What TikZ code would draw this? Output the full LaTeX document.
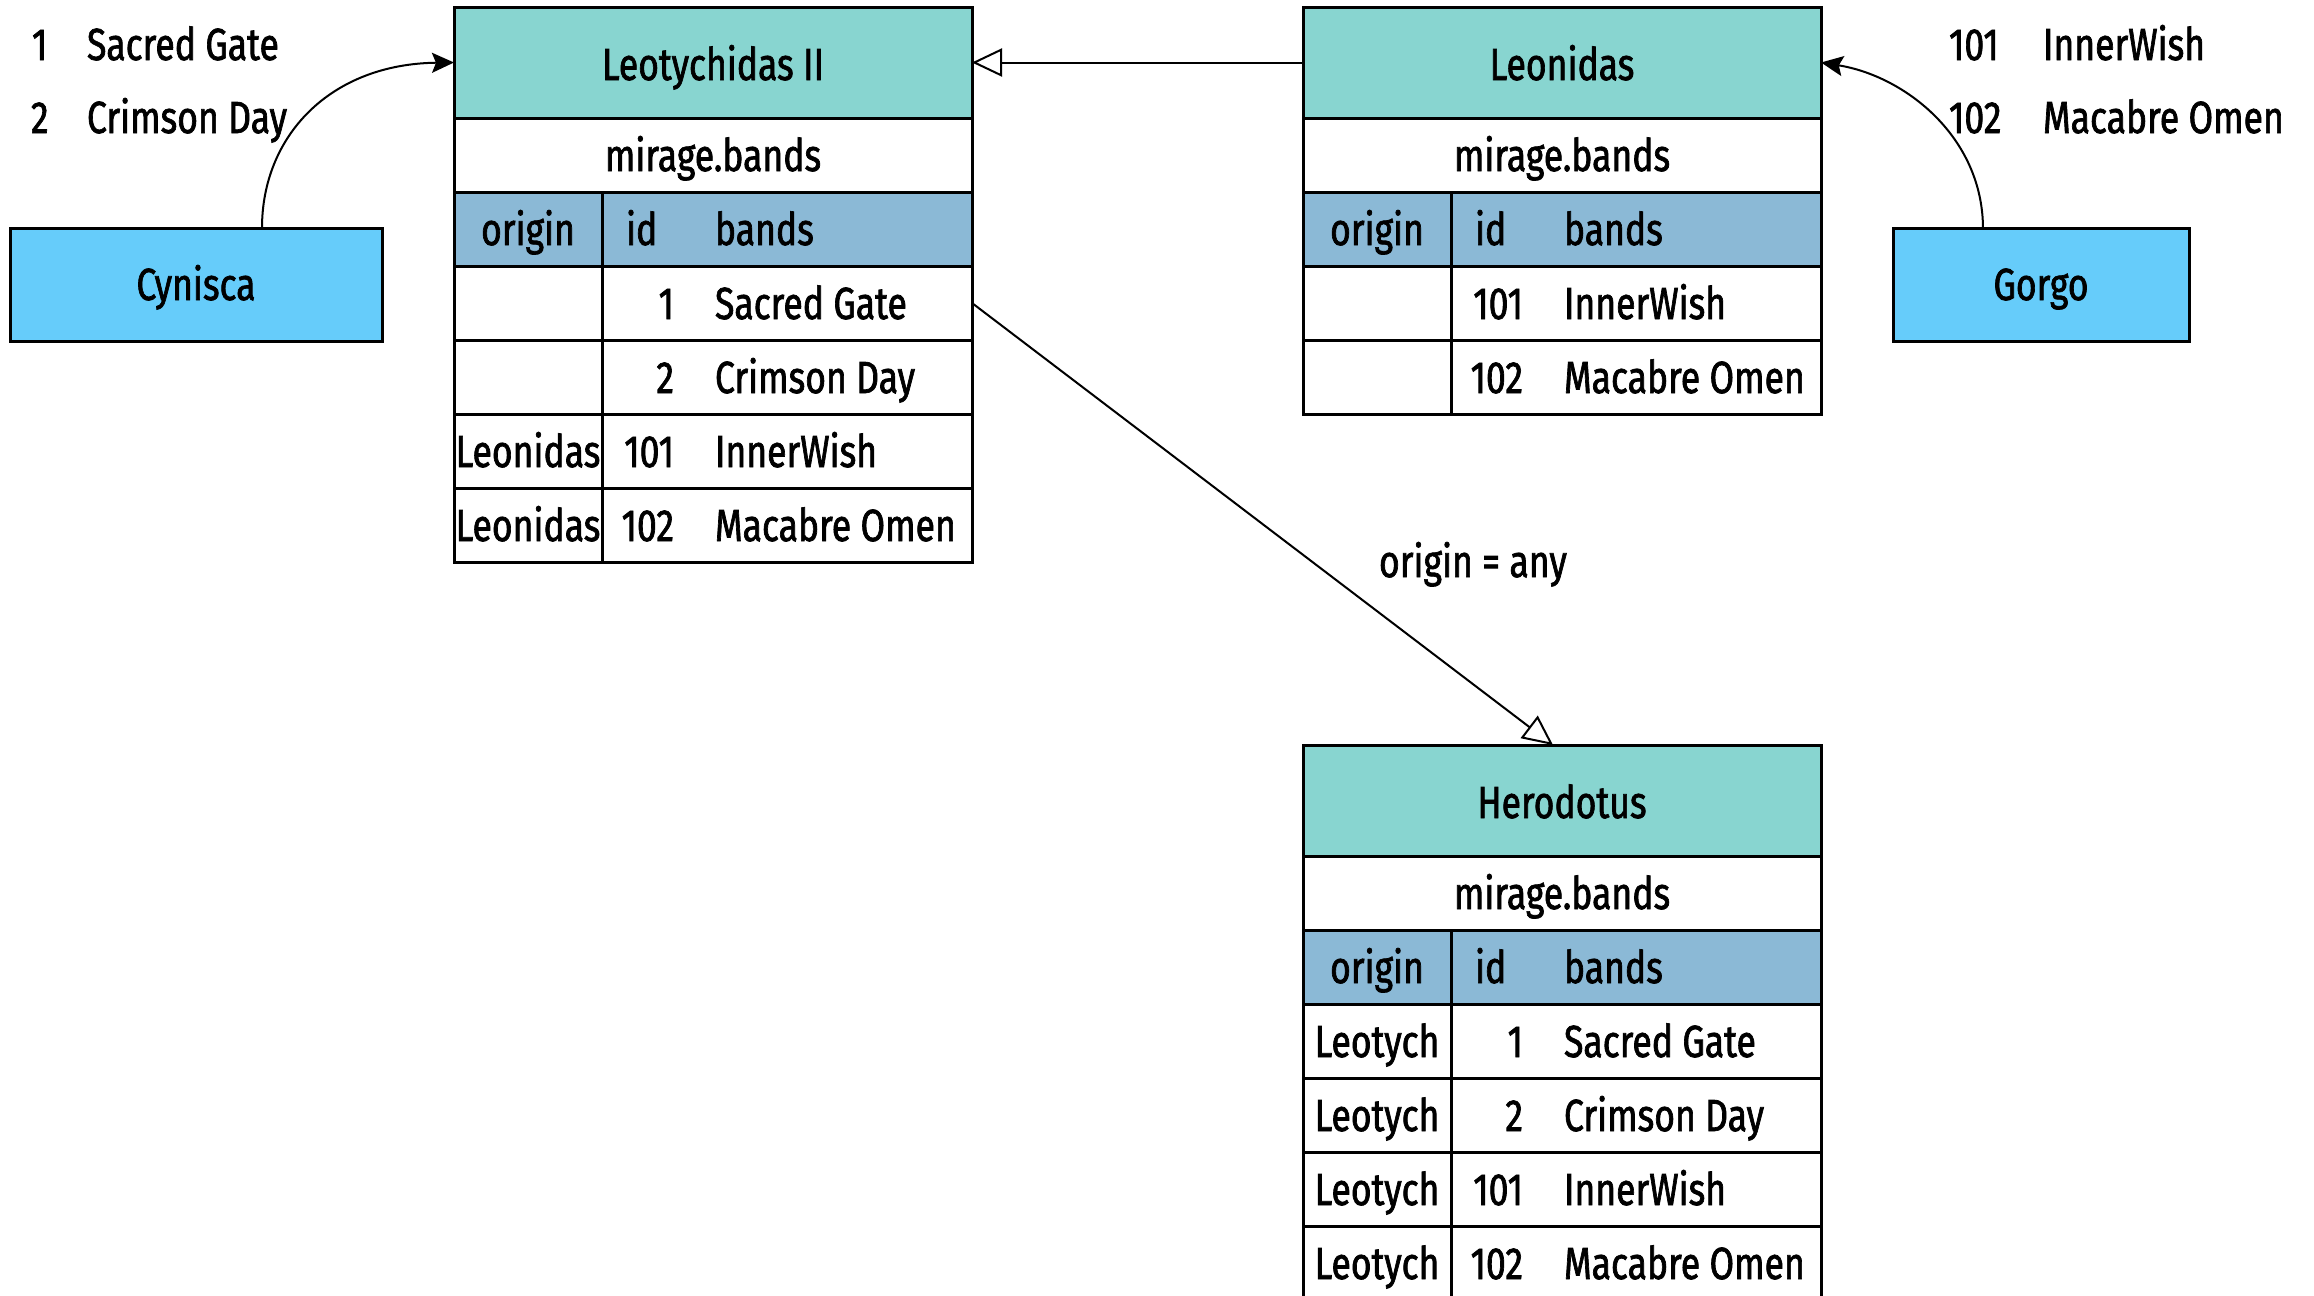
\documentclass[tikz,border=0pt]{standalone}
\usepackage{fontspec}
\setmainfont{Fira Sans}[FakeStretch=0.79,FakeBold=1.5]
\usetikzlibrary{arrows.meta}
\definecolor{hdrteal}{HTML}{88D5D0}
\definecolor{colhdr}{HTML}{8BB9D6}
\definecolor{boxblue}{HTML}{66CCFA}
\begin{document}
\begin{tikzpicture}[x=0.5pt,y=0.5pt,
  every node/.style={font=\fontsize{22.5}{27}\selectfont, inner sep=0pt, outer sep=0pt},
  cell/.style={draw, line width=1.5pt, fill=white},
  hdrcell/.style={cell, fill=hdrteal, minimum width=259pt, minimum height=55.5pt},
  namecell/.style={cell, minimum width=259pt, minimum height=37pt},
  ocell/.style={cell, minimum width=74pt, minimum height=37pt},
  dcell/.style={cell, minimum width=185pt, minimum height=37pt},
  ohcell/.style={ocell, fill=colhdr},
  dhcell/.style={dcell, fill=colhdr},
  actor/.style={cell, fill=boxblue, minimum height=56.5pt},
  tc/.style={anchor=base},
  tw/.style={anchor=base west},
  te/.style={anchor=base east},
  conn/.style={line width=1pt},
  solidtip/.style={-{Stealth[length=11pt,width=10pt,inset=2pt]}},
  opentip/.style={-{Triangle[open,length=15pt,width=14pt]}}
]
\useasboundingbox (0,0) rectangle (2314,-1296);
\clip (0,0) rectangle (2314,-1296);

% ---------- Leotychidas II ----------
\node[hdrcell] (Lh) at (713,-62.5) {};
\node[namecell] (Lm) at (713,-155) {};
\node[ohcell] (Lco) at (528,-229) {};
\node[dhcell] (Lcd) at (787,-229) {};
\node[ocell] (Lr1o) at (528,-303) {};
\node[dcell] (Lr1d) at (787,-303) {};
\node[ocell] (Lr2o) at (528,-377) {};
\node[dcell] (Lr2d) at (787,-377) {};
\node[ocell] (Lr3o) at (528,-451) {};
\node[dcell] (Lr3d) at (787,-451) {};
\node[ocell] (Lr4o) at (528,-525) {};
\node[dcell] (Lr4d) at (787,-525) {};
\node[tc] (Lht) at (713,-80) {Leotychidas II};
\node[tc] (Lmt) at (713,-171) {mirage.bands};
\node[tc] (Lcot) at (528,-245) {origin};
\node[tw] (Lcit) at (626,-245) {id};
\node[tw] (Lcbt) at (715,-245) {bands};
\node[te] (Lr1i) at (674,-319) {1};
\node[tw] (Lr1b) at (715,-319) {Sacred Gate};
\node[te] (Lr2i) at (674,-393) {2};
\node[tw] (Lr2b) at (715,-393) {Crimson Day};
\node[tc] (Lr3ot) at (528,-467) {Leonidas};
\node[te] (Lr3i) at (674,-467) {101};
\node[tw] (Lr3b) at (715,-467) {InnerWish};
\node[tc] (Lr4ot) at (528,-541) {Leonidas};
\node[te] (Lr4i) at (674,-541) {102};
\node[tw] (Lr4b) at (715,-541) {Macabre Omen};

% ---------- Leonidas ----------
\node[hdrcell] (Nh) at (1562,-62.5) {};
\node[namecell] (Nm) at (1562,-155) {};
\node[ohcell] (Nco) at (1377,-229) {};
\node[dhcell] (Ncd) at (1636,-229) {};
\node[ocell] (Nr1o) at (1377,-303) {};
\node[dcell] (Nr1d) at (1636,-303) {};
\node[ocell] (Nr2o) at (1377,-377) {};
\node[dcell] (Nr2d) at (1636,-377) {};
\node[tc] (Nht) at (1562,-80) {Leonidas};
\node[tc] (Nmt) at (1562,-171) {mirage.bands};
\node[tc] (Ncot) at (1377,-245) {origin};
\node[tw] (Ncit) at (1475,-245) {id};
\node[tw] (Ncbt) at (1564,-245) {bands};
\node[te] (Nr1i) at (1523,-319) {101};
\node[tw] (Nr1b) at (1564,-319) {InnerWish};
\node[te] (Nr2i) at (1523,-393) {102};
\node[tw] (Nr2b) at (1564,-393) {Macabre Omen};

% ---------- Herodotus ----------
\node[hdrcell] (Hh) at (1562,-800.5) {};
\node[namecell] (Hm) at (1562,-893) {};
\node[ohcell] (Hco) at (1377,-967) {};
\node[dhcell] (Hcd) at (1636,-967) {};
\node[ocell] (Hr1o) at (1377,-1041) {};
\node[dcell] (Hr1d) at (1636,-1041) {};
\node[ocell] (Hr2o) at (1377,-1115) {};
\node[dcell] (Hr2d) at (1636,-1115) {};
\node[ocell] (Hr3o) at (1377,-1189) {};
\node[dcell] (Hr3d) at (1636,-1189) {};
\node[ocell] (Hr4o) at (1377,-1263) {};
\node[dcell] (Hr4d) at (1636,-1263) {};
\node[tc] (Hht) at (1562,-818) {Herodotus};
\node[tc] (Hmt) at (1562,-909) {mirage.bands};
\node[tc] (Hcot) at (1377,-983) {origin};
\node[tw] (Hcit) at (1475,-983) {id};
\node[tw] (Hcbt) at (1564,-983) {bands};
\node[tc] (Hr1ot) at (1377,-1057) {Leotych};
\node[te] (Hr1i) at (1523,-1057) {1};
\node[tw] (Hr1b) at (1564,-1057) {Sacred Gate};
\node[tc] (Hr2ot) at (1377,-1131) {Leotych};
\node[te] (Hr2i) at (1523,-1131) {2};
\node[tw] (Hr2b) at (1564,-1131) {Crimson Day};
\node[tc] (Hr3ot) at (1377,-1205) {Leotych};
\node[te] (Hr3i) at (1523,-1205) {101};
\node[tw] (Hr3b) at (1564,-1205) {InnerWish};
\node[tc] (Hr4ot) at (1377,-1279) {Leotych};
\node[te] (Hr4i) at (1523,-1279) {102};
\node[tw] (Hr4b) at (1564,-1279) {Macabre Omen};

% ---------- actors ----------
\node[actor, minimum width=186pt] (cyn) at (196,-284.5) {};
\node[tc] (cynt) at (196,-300) {Cynisca};
\node[actor, minimum width=148pt] (gor) at (2041,-284.5) {};
\node[tc] (gort) at (2041,-300) {Gorgo};

% ---------- free labels ----------
\node[tw] (cl1n) at (32,-60) {1};
\node[tw] (cl1t) at (87,-60) {Sacred Gate};
\node[tw] (cl2n) at (31,-133) {2};
\node[tw] (cl2t) at (87,-133) {Crimson Day};
\node[tw] (gl1n) at (1949,-60) {101};
\node[tw] (gl1t) at (2043,-60) {InnerWish};
\node[tw] (gl2n) at (1949,-133) {102};
\node[tw] (gl2t) at (2043,-133) {Macabre Omen};

% ---------- connectors ----------
\coordinate (cynout) at (262,-228);
\coordinate (gorout) at (1983,-229);
\coordinate (herin) at (1553,-745);
\draw[conn, solidtip] (cynout) .. controls (262,-136) and (330,-64) .. (Lh.west);
\draw[conn, solidtip] (gorout) .. controls (1983,-137) and (1905,-76) .. (Nh.east);
\draw[conn, opentip] (Nh.west) -- (Lh.east);
\draw[conn, opentip] (Lr1d.east) -- (herin);
\node[tw] (anylbl) at (1379,-577) {origin = any};
\end{tikzpicture}
\end{document}
